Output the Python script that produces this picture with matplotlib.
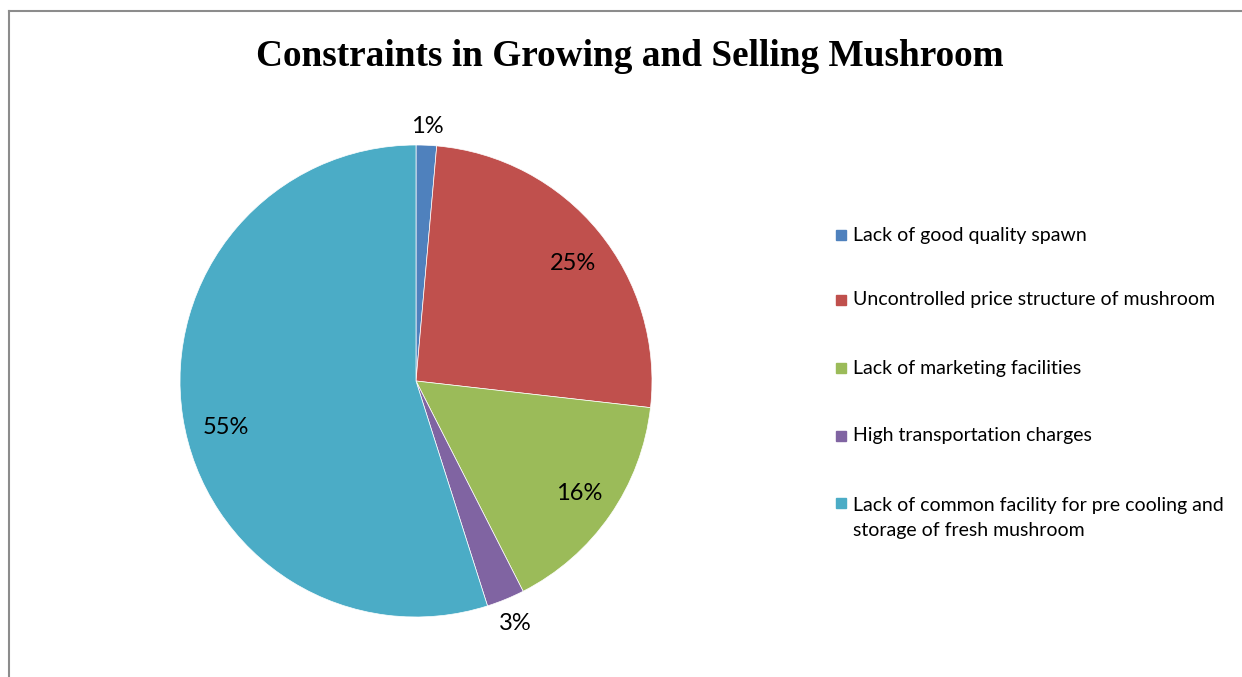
import numpy as np
import matplotlib
matplotlib.use("Agg")
import matplotlib.pyplot as plt
from matplotlib.patches import Rectangle
from matplotlib.lines import Line2D

# Share of respondents reporting each constraint (%)
categories = [
    "Lack of good quality spawn",
    "Uncontrolled price structure of mushroom",
    "Lack of marketing facilities",
    "High transportation charges",
    "Lack of common facility for pre cooling and\nstorage of fresh mushroom",
]
shares = [1.4, 25.4, 15.7, 2.6, 54.9]
colors = ["#4F81BD", "#C0504D", "#9BBB59", "#8064A2", "#4BACC6"]
title = "Constraints in Growing and Selling Mushroom"

W, H = 1242, 677
fig = plt.figure(figsize=(W / 100, H / 100), dpi=100)

# outer chart frame (left and top edges visible)
fig.add_artist(Line2D([9 / W, 9 / W], [0, 1 - 11 / H], color="#8c8c8c", lw=1.5))
fig.add_artist(Line2D([9 / W, 1], [1 - 11 / H, 1 - 11 / H], color="#8c8c8c", lw=1.5))

fig.text(630 / W, 1 - 57 / H, title, ha="center", va="center",
         fontsize=26.8, fontweight="bold", family="Liberation Serif")

cx, cy, r = 416, 381, 236
ax = fig.add_axes([(cx - r) / W, (H - cy - r) / H, 2 * r / W, 2 * r / H])
wedges, _ = ax.pie(shares, colors=colors, startangle=90, counterclock=False,
                   radius=1, wedgeprops=dict(linewidth=0.5, edgecolor="white"))
ax.set_xlim(-1, 1)
ax.set_ylim(-1, 1)
ax.set_aspect("equal")
ax.axis("off")

# percentage labels: small slices sit just outside the rim
label_dist = [1.08, 0.83, 0.84, 1.11, 0.83]
label_turn = [0.0, -2.5, 0.0, 0.0, 5.0]
for w, v, d, t in zip(wedges, shares, label_dist, label_turn):
    mid = np.deg2rad((w.theta1 + w.theta2) / 2 + t)
    ax.text(d * np.cos(mid), d * np.sin(mid), f"{v:.0f}%", ha="center",
            va="center", fontsize=17, family="Lato", clip_on=False)

# legend on the right
leg_y = [235, 300, 368, 436, 503]
for lab, c, y in zip(categories, colors, leg_y):
    fig.add_artist(Rectangle((836 / W, 1 - (y + 5) / H), 10 / W, 10 / H,
                             transform=fig.transFigure, color=c))
    if "\n" in lab:
        fig.text(853 / W, 1 - (y - 6) / H, lab, ha="left", va="top",
                 fontsize=14, family="Lato", linespacing=1.55)
    else:
        fig.text(853 / W, 1 - y / H, lab, ha="left", va="center",
                 fontsize=14, family="Lato")

fig.savefig("out.png", dpi=100, facecolor="white")
